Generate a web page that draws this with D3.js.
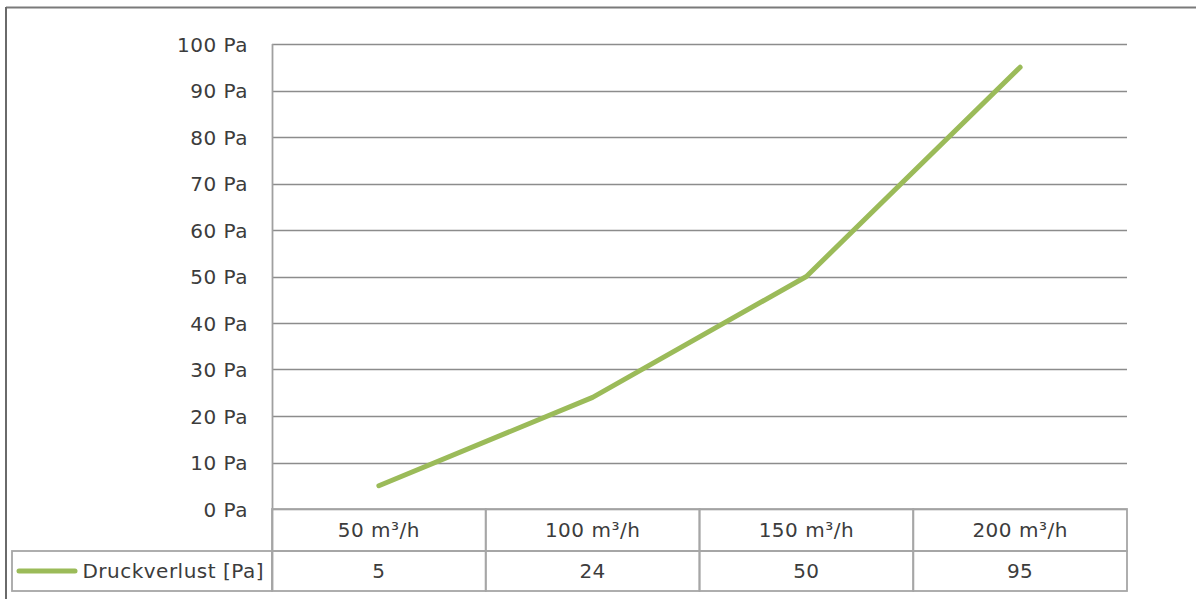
<!DOCTYPE html>
<html><head><meta charset="utf-8">
<script src="https://cdn.jsdelivr.net/npm/d3@7"></script>
<style>
html,body{margin:0;padding:0;background:#fff;}
svg{display:block;}
text{font-family:"DejaVu Sans",Verdana,sans-serif;fill:#3c3c3c;letter-spacing:0.5px;}
</style></head>
<body>
<script>
const categories = ["50 m³/h", "100 m³/h", "150 m³/h", "200 m³/h"];
const seriesName = "Druckverlust [Pa]";
const values = [5, 24, 50, 95];
const yTicks = [0, 10, 20, 30, 40, 50, 60, 70, 80, 90, 100];
const yTickLabels = yTicks.map(v => v + " Pa");

const W = 1196, H = 599;
const plotL = 272, plotR = 1127, plotT = 44, plotB = 509;
const tableL = 12, headerB = 551, rowB = 591;
const lineColor = "#9BBB59";
const fs = "20px";

const svg = d3.select("body").append("svg").attr("width", W).attr("height", H);

// outer frame
svg.append("line").attr("x1", 6).attr("x2", W).attr("y1", 7.5).attr("y2", 7.5)
  .attr("stroke", "#7a7a7a").attr("stroke-width", 2);
svg.append("line").attr("x1", 6).attr("x2", 6).attr("y1", 7).attr("y2", H)
  .attr("stroke", "#6a6a6a").attr("stroke-width", 2);

const x = d3.scaleBand().domain(categories).range([plotL, plotR]).padding(0);
const y = d3.scaleLinear().domain([0, 100]).range([plotB, plotT]);

// gridlines
svg.append("g").selectAll("line").data(yTicks).join("line")
  .attr("x1", plotL).attr("x2", plotR)
  .attr("y1", d => Math.round(y(d)) + 0.5).attr("y2", d => Math.round(y(d)) + 0.5)
  .attr("stroke", "#8c8c8c").attr("stroke-width", 1.6);

// y axis labels
const yAxis = d3.axisLeft(y).tickValues(yTicks).tickFormat((d, i) => yTickLabels[i]).tickSize(0).tickPadding(24);
const gy = svg.append("g").attr("transform", `translate(${plotL},0)`).call(yAxis);
gy.select(".domain").remove();
gy.selectAll("text").style("font-size", fs).attr("font-family", null).attr("fill", "#3c3c3c").attr("dy", "0.35em");

// plot left vertical line
svg.append("line").attr("x1", plotL + 0.5).attr("x2", plotL + 0.5).attr("y1", plotT).attr("y2", rowB)
  .attr("stroke", "#a0a0a0").attr("stroke-width", 1.8);

// data table
const tb = svg.append("g");
const tStroke = "#a6a6a6";
categories.forEach(c => {
  tb.append("rect").attr("x", x(c)).attr("y", plotB).attr("width", x.bandwidth()).attr("height", headerB - plotB)
    .attr("fill", "none").attr("stroke", tStroke).attr("stroke-width", 1.8);
  tb.append("rect").attr("x", x(c)).attr("y", headerB).attr("width", x.bandwidth()).attr("height", rowB - headerB)
    .attr("fill", "none").attr("stroke", tStroke).attr("stroke-width", 1.8);
});
tb.append("rect").attr("x", tableL).attr("y", headerB).attr("width", plotL - tableL).attr("height", rowB - headerB)
  .attr("fill", "none").attr("stroke", tStroke).attr("stroke-width", 1.8);

tb.selectAll("text.hdr").data(categories).join("text").attr("class", "hdr")
  .attr("x", d => x(d) + x.bandwidth() / 2).attr("y", (plotB + headerB) / 2)
  .attr("text-anchor", "middle").attr("dy", "0.35em").style("font-size", fs).text(d => d);
tb.selectAll("text.val").data(values).join("text").attr("class", "val")
  .attr("x", (d, i) => x(categories[i]) + x.bandwidth() / 2).attr("y", (headerB + rowB) / 2)
  .attr("text-anchor", "middle").attr("dy", "0.35em").style("font-size", fs).text(d => d);

// legend key in table
tb.append("line").attr("x1", 19).attr("x2", 75).attr("y1", (headerB + rowB) / 2).attr("y2", (headerB + rowB) / 2)
  .attr("stroke", lineColor).attr("stroke-width", 5).attr("stroke-linecap", "round");
tb.append("text").attr("x", plotL - 8).attr("y", (headerB + rowB) / 2).attr("dy", "0.35em")
  .attr("text-anchor", "end").style("font-size", fs).text(seriesName);

// series line
const line = d3.line().x((d, i) => x(categories[i]) + x.bandwidth() / 2).y(d => y(d));
svg.append("path").datum(values).attr("d", line).attr("fill", "none")
  .attr("stroke", lineColor).attr("stroke-width", 5).attr("stroke-linejoin", "round").attr("stroke-linecap", "round");
</script>
</body></html>
